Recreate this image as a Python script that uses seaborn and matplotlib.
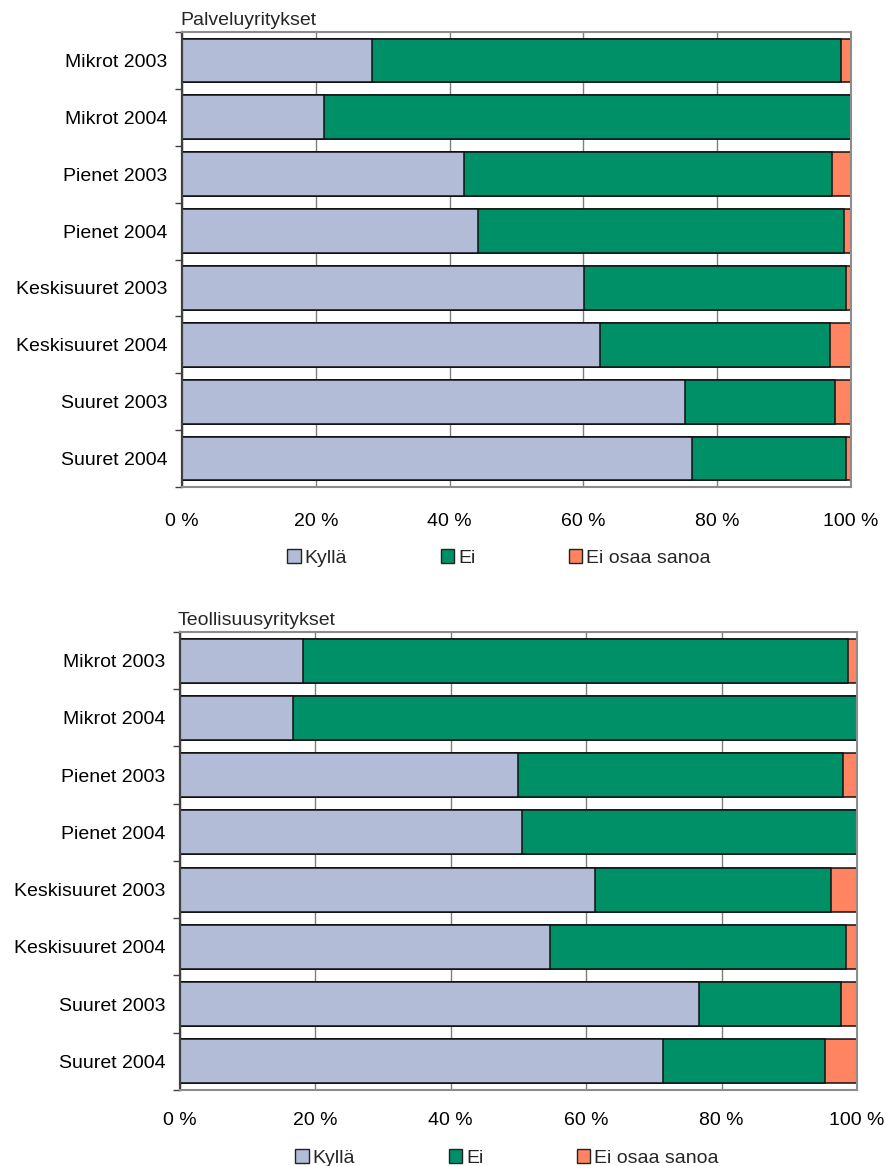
import numpy as np
import pandas as pd
import matplotlib
matplotlib.use("Agg")
import matplotlib.pyplot as plt
from matplotlib.patches import Patch
import seaborn as sns

# Survey groups (size class and year)
categories = ["Mikrot 2003", "Mikrot 2004", "Pienet 2003", "Pienet 2004",
              "Keskisuuret 2003", "Keskisuuret 2004", "Suuret 2003", "Suuret 2004"]
series_names = ["Kyllä", "Ei", "Ei osaa sanoa"]

# Service companies, share of answers (%)
palvelu_kylla = [28.4, 21.2, 42.2, 44.2, 60.1, 62.5, 75.2, 76.3]
palvelu_ei = [70.1, 78.8, 54.9, 54.8, 39.2, 34.4, 22.4, 23.0]
palvelu_eos = [1.5, 0.0, 2.9, 1.0, 0.7, 3.1, 2.4, 0.7]

# Manufacturing companies, share of answers (%)
teollisuus_kylla = [18.1, 16.7, 50.0, 50.5, 61.3, 54.7, 76.7, 71.3]
teollisuus_ei = [80.5, 83.3, 48.0, 49.5, 34.9, 43.7, 20.9, 24.0]
teollisuus_eos = [1.4, 0.0, 2.0, 0.0, 3.8, 1.6, 2.4, 4.7]

x_ticks = [0, 20, 40, 60, 80, 100]
x_tick_labels = ["0 %", "20 %", "40 %", "60 %", "80 %", "100 %"]

colors = {"Kyllä": "#B2BCD6", "Ei": "#009068", "Ei osaa sanoa": "#FF8461"}

sns.set_theme(style="white")
plt.rcParams["font.family"] = ["Liberation Sans", "DejaVu Sans"]
FS = 14

fig = plt.figure(figsize=(8.87, 11.66), dpi=100)
ax_top = fig.add_axes([0.2052, 0.5823, 0.7542, 0.3902])
ax_bot = fig.add_axes([0.2029, 0.0652, 0.7633, 0.3928])


def stacked_panel(ax, title, kylla, ei, eos, xpad):
    df = pd.DataFrame({"ryhma": categories, "Kyllä": kylla, "Ei": ei,
                       "Ei osaa sanoa": eos})
    # cumulative ends of each segment, drawn back to front
    df["end_eos"] = df["Kyllä"] + df["Ei"] + df["Ei osaa sanoa"]
    df["end_ei"] = df["Kyllä"] + df["Ei"]
    df["end_kylla"] = df["Kyllä"]
    for col, name in [("end_eos", "Ei osaa sanoa"), ("end_ei", "Ei"),
                      ("end_kylla", "Kyllä")]:
        sns.barplot(data=df, y="ryhma", x=col, orient="h", color=colors[name],
                    saturation=1, width=0.77, edgecolor="#111111",
                    linewidth=1.1, ax=ax, zorder=2)
    ax.set_xlim(0, 100)
    ax.set_ylim(len(categories) - 0.5, -0.5)
    ax.set_xticks(x_ticks)
    ax.set_xticklabels(x_tick_labels, fontsize=FS)
    ax.set_yticks(range(len(categories)))
    ax.set_yticklabels(categories, fontsize=FS)
    ax.set_yticks(np.arange(-0.5, len(categories), 1), minor=True)
    ax.tick_params(axis="y", which="major", length=0, pad=10.5, colors="black")
    ax.tick_params(axis="y", which="minor", left=True, length=5, width=1,
                   color="#404040")
    ax.tick_params(axis="x", which="major", length=0, pad=xpad, colors="black")
    ax.set_xlabel("")
    ax.set_ylabel("")
    ax.xaxis.grid(True, color="#7F7F7F", linewidth=1)
    ax.yaxis.grid(False)
    ax.set_axisbelow(True)
    for side in ["top", "right", "bottom"]:
        ax.spines[side].set_color("#8C8C8C")
        ax.spines[side].set_linewidth(1.5)
    ax.spines["left"].set_color("#404040")
    ax.spines["left"].set_linewidth(1.6)
    ax.set_title(title, loc="left", fontsize=FS, pad=5, x=-0.003)


stacked_panel(ax_top, "Palveluyritykset", palvelu_kylla, palvelu_ei,
              palvelu_eos, 19)
stacked_panel(ax_bot, "Teollisuusyritykset", teollisuus_kylla, teollisuus_ei,
              teollisuus_eos, 15.5)

handles = [Patch(facecolor=colors[n], edgecolor="#222222", linewidth=1)
           for n in series_names]
for cx, cy in [(0.5626, 0.5215), (0.5716, 0.0069)]:
    fig.legend(handles, series_names, loc="center", bbox_to_anchor=(cx, cy),
               ncol=3, frameon=False, fontsize=FS, columnspacing=4.8,
               handlelength=0.7, handleheight=0.7, handletextpad=0.2,
               borderaxespad=0, borderpad=0)

fig.savefig("out.png", dpi=100, facecolor="white")
